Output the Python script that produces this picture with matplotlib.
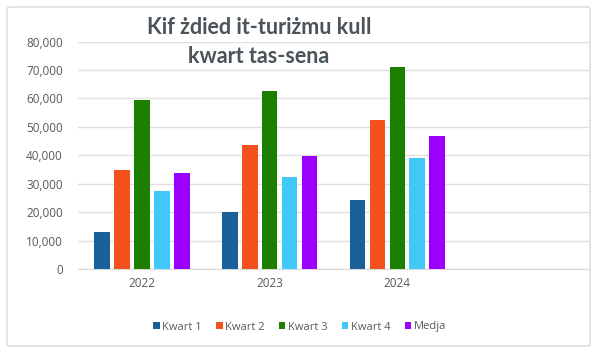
import matplotlib.pyplot as plt
from matplotlib.patches import FancyBboxPatch
import numpy as np

# Data
years = ["2022", "2023", "2024"]
series = ["Kwart 1", "Kwart 2", "Kwart 3", "Kwart 4", "Medja"]
kwart1 = [13000, 20000, 24300]
kwart2 = [35000, 43700, 52300]
kwart3 = [59500, 62700, 71100]
kwart4 = [27500, 32500, 39000]
medja = [33700, 39800, 46800]
colors = ["#1a5e9a", "#f4511e", "#1c7f00", "#40c8f8", "#9b00ff"]

values = [kwart1, kwart2, kwart3, kwart4, medja]

plt.rcParams['font.family'] = ['Open Sans', 'DejaVu Sans']
fig = plt.figure(figsize=(6, 3.54), dpi=100)

# chart frame
frame = FancyBboxPatch((7/600, 1-346/354), 583/600, 339/354,
                       boxstyle="round,pad=0,rounding_size=0.005",
                       transform=fig.transFigure, fill=False,
                       edgecolor="#d9d9d9", linewidth=1)
fig.patches.append(frame)

ax = fig.add_axes([78/600, 1-269/354, 511/600, (269-41.6)/354])

x = np.arange(len(years))
pitch = 0.156
width = 0.123
for i, (name, vals) in enumerate(zip(series, values)):
    off = (i - 2) * pitch
    ax.bar(x + off, vals, width, color=colors[i], label=name, zorder=3)

ax.set_xlim(-0.5, 3.5)
ax.set_ylim(0, 80000)
ax.set_yticks(np.arange(0, 80001, 10000))
ax.set_yticklabels([f"{v:,}" for v in range(0, 80001, 10000)])
ax.set_xticks(x)
ax.set_xticklabels(years)
ax.grid(axis='y', color="#e0e0e0", linewidth=1, zorder=0)
for s in ["top", "right", "left"]:
    ax.spines[s].set_visible(False)
ax.spines["bottom"].set_color("#d9d9d9")
ax.tick_params(axis='both', length=0, colors="#595959", labelsize=8.5)
ax.tick_params(axis='y', pad=11)
ax.tick_params(axis='x', pad=6)

fig.text(259/600, 1-42/354, "Kif żdied it-turiżmu kull\nkwart tas-sena",
         ha='center', va='center', fontsize=15.5, fontweight='bold',
         family=['Lato', 'DejaVu Sans'],
         color="#4a5459", linespacing=1.45)

leg = fig.legend(loc='center', bbox_to_anchor=(300/600, 1-327/354), ncol=5,
                 frameon=False, fontsize=8, handlelength=0.55, handleheight=0.55,
                 handletextpad=0.25, columnspacing=1.3)
for t in leg.get_texts():
    t.set_color("#595959")

fig.savefig("out.png", dpi=100)
